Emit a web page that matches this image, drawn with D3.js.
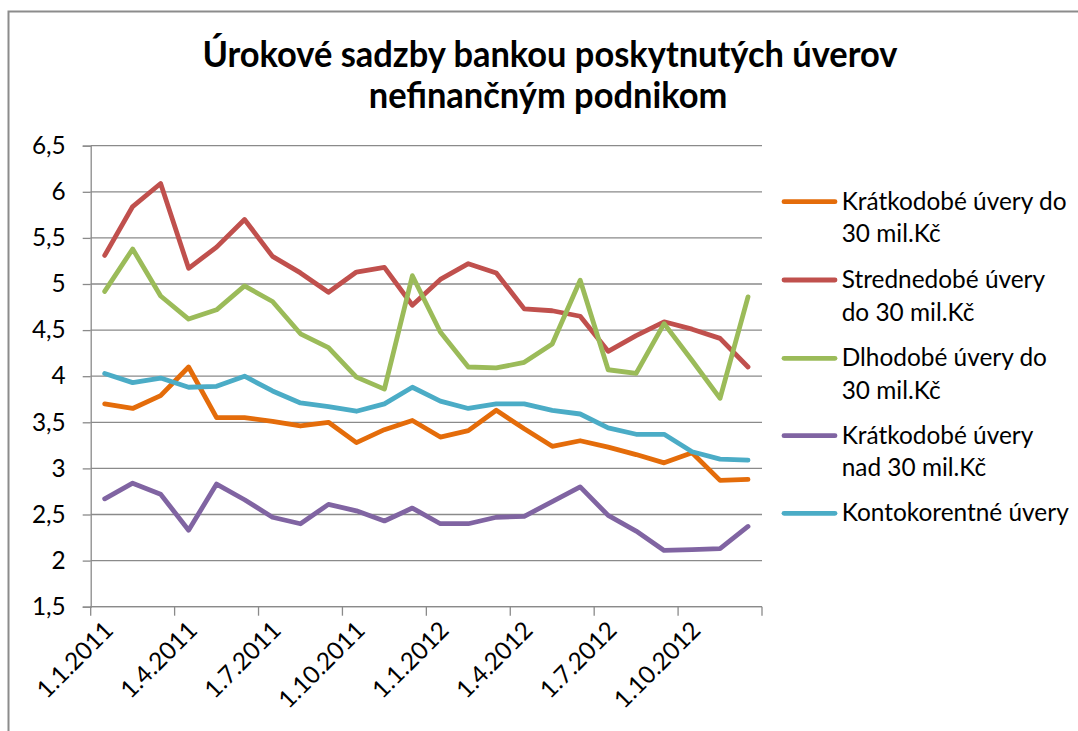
<!DOCTYPE html>
<html>
<head>
<meta charset="utf-8">
<script src="https://cdn.jsdelivr.net/npm/d3@7"></script>
<style>
  html, body { margin: 0; padding: 0; background: #fff; }
  svg { display: block; }
  text { font-family: "Lato", "Open Sans", sans-serif; fill: #000; }
</style>
</head>
<body>
<svg id="chart" width="1078" height="731"></svg>
<script>
const categories = ["1.1.2011","1.2.2011","1.3.2011","1.4.2011","1.5.2011","1.6.2011",
  "1.7.2011","1.8.2011","1.9.2011","1.10.2011","1.11.2011","1.12.2011",
  "1.1.2012","1.2.2012","1.3.2012","1.4.2012","1.5.2012","1.6.2012",
  "1.7.2012","1.8.2012","1.9.2012","1.10.2012","1.11.2012","1.12.2012"];
const tickLabels = ["1.1.2011","1.4.2011","1.7.2011","1.10.2011","1.1.2012","1.4.2012","1.7.2012","1.10.2012"];
const yTicks = [1.5, 2, 2.5, 3, 3.5, 4, 4.5, 5, 5.5, 6, 6.5];

const kratkodobeDo30 = [3.70,3.65,3.79,4.10,3.55,3.55,3.51,3.46,3.50,3.28,3.42,3.52,3.34,3.41,3.63,3.43,3.24,3.30,3.23,3.15,3.06,3.17,2.87,2.88];
const strednedobeDo30 = [5.31,5.84,6.09,5.17,5.40,5.70,5.30,5.12,4.91,5.13,5.18,4.77,5.05,5.22,5.12,4.73,4.71,4.65,4.27,4.44,4.59,4.51,4.41,4.10];
const dlhodobeDo30 = [4.92,5.38,4.87,4.62,4.72,4.98,4.81,4.46,4.31,3.99,3.86,5.09,4.48,4.10,4.09,4.15,4.35,5.04,4.07,4.03,4.57,4.17,3.76,4.86];
const kratkodobeNad30 = [2.67,2.84,2.72,2.33,2.83,2.66,2.47,2.40,2.61,2.54,2.43,2.57,2.40,2.40,2.47,2.48,2.64,2.80,2.49,2.32,2.11,2.12,2.13,2.37];
const kontokorentne = [4.03,3.93,3.98,3.88,3.89,4.00,3.84,3.71,3.67,3.62,3.70,3.88,3.73,3.65,3.70,3.70,3.63,3.59,3.44,3.37,3.37,3.18,3.10,3.09];

const seriesNames = [
  ["Krátkodobé úvery do", "30 mil.Kč"],
  ["Strednedobé úvery", "do 30 mil.Kč"],
  ["Dlhodobé úvery do", "30 mil.Kč"],
  ["Krátkodobé úvery", "nad 30 mil.Kč"],
  ["Kontokorentné úvery"]
];
const seriesValues = [kratkodobeDo30, strednedobeDo30, dlhodobeDo30, kratkodobeNad30, kontokorentne];
const seriesColors = ["#E46C0A", "#C0504D", "#9BBB59", "#8064A2", "#4BACC6"];
const titleLines = ["Úrokové sadzby bankou poskytnutých úverov", "nefinančným podnikom"];

(function () {
const svg = d3.select("#chart");
const gridColor = "#8a8a8a";

svg.append("rect").attr("x", 8.5).attr("y", 11.5).attr("width", 1200).attr("height", 900)
  .attr("fill", "none").attr("stroke", "#8c8c8c").attr("stroke-width", 2);

function fit(sel, target) {
  const w = sel.node().getComputedTextLength();
  const fs = parseFloat(sel.attr("font-size"));
  return fs * target / w;
}

const t1 = svg.append("text").attr("x", 550).attr("y", 67).attr("text-anchor", "middle")
  .attr("font-weight", "bold").attr("font-size", 30).text(titleLines[0]);
const tfs = fit(t1, 695) * 1.05;
t1.attr("font-size", tfs);
const nat1 = t1.node().getComputedTextLength();
const squeeze = 695 / nat1;
t1.attr("textLength", 695).attr("lengthAdjust", "spacingAndGlyphs");
const t2 = svg.append("text").attr("x", 548).attr("y", 108).attr("text-anchor", "middle")
  .attr("font-weight", "bold").attr("font-size", tfs).text(titleLines[1]);
t2.attr("textLength", t2.node().getComputedTextLength() * squeeze).attr("lengthAdjust", "spacingAndGlyphs");

const pLeft = 90.7, pRight = 762, pTop = 145.7, pBottom = 606.7;
const x = d3.scaleBand().domain(categories).range([pLeft, pRight]).padding(0);
const y = d3.scaleLinear().domain([1.5, 6.5]).range([pBottom, pTop]);
const loc = d3.formatLocale({decimal: ",", thousands: " ", grouping: [3], currency: ["", " Kč"]});
const yFmt = loc.format("~g");

const probe = svg.append("text").attr("font-size", 24).text("6,5");
const labelFs = fit(probe, 32.5) * 1.04;
probe.remove();

svg.append("g").selectAll("line").data(yTicks).join("line")
  .attr("x1", pLeft).attr("x2", pRight)
  .attr("y1", d => y(d)).attr("y2", d => y(d))
  .attr("stroke", gridColor).attr("stroke-width", 1.3);

const yAxis = svg.append("g").attr("transform", `translate(${pLeft},0)`)
  .call(d3.axisLeft(y).tickValues(yTicks).tickFormat(yFmt).tickSize(8).tickPadding(17));
yAxis.select(".domain").attr("stroke", gridColor).attr("stroke-width", 1.3);
yAxis.selectAll(".tick line").attr("stroke", gridColor).attr("stroke-width", 1.3);
yAxis.selectAll(".tick text").attr("font-size", labelFs).attr("font-family", "Lato, 'Open Sans', sans-serif").attr("fill", "#000");

const xTickPos = tickLabels.map(c => x(c)).concat([pRight]);
svg.append("line").attr("x1", pLeft).attr("x2", pRight).attr("y1", pBottom).attr("y2", pBottom)
  .attr("stroke", gridColor).attr("stroke-width", 1.3);
svg.append("g").selectAll("line").data(xTickPos).join("line")
  .attr("x1", d => d).attr("x2", d => d).attr("y1", pBottom).attr("y2", pBottom + 9)
  .attr("stroke", gridColor).attr("stroke-width", 1.3);
svg.append("g").selectAll("text").data(tickLabels).join("text")
  .attr("transform", d => `translate(${x(d) + x.bandwidth() / 2 + 4},${pBottom + 19}) rotate(-45)`)
  .attr("text-anchor", "end").attr("dy", "0.35em")
  .attr("font-size", labelFs).text(d => d);

const line = d3.line().x((d, i) => x(categories[i]) + x.bandwidth() / 2).y(d => y(d));
svg.append("g").selectAll("path").data(seriesValues).join("path")
  .attr("d", d => line(d)).attr("fill", "none")
  .attr("stroke", (d, i) => seriesColors[i]).attr("stroke-width", 4.8)
  .attr("stroke-linejoin", "round").attr("stroke-linecap", "round");

const legendY = [201.7, 280, 358.3, 435.7, 513.3];
const lg = svg.append("g");
const lprobe = lg.append("text").attr("font-size", 22).text(seriesNames[0][0]);
const legendFs = fit(lprobe, 225);
lprobe.remove();
seriesNames.forEach((lines, i) => {
  lg.append("line").attr("x1", 784).attr("x2", 835).attr("y1", legendY[i]).attr("y2", legendY[i])
    .attr("stroke", seriesColors[i]).attr("stroke-width", 4.8).attr("stroke-linecap", "round");
  lines.forEach((t, j) => {
    lg.append("text").attr("x", 841.7).attr("y", legendY[i] + 8 + j * 32.5)
      .attr("font-size", legendFs).text(t);
  });
});
})();
</script>
</body>
</html>
